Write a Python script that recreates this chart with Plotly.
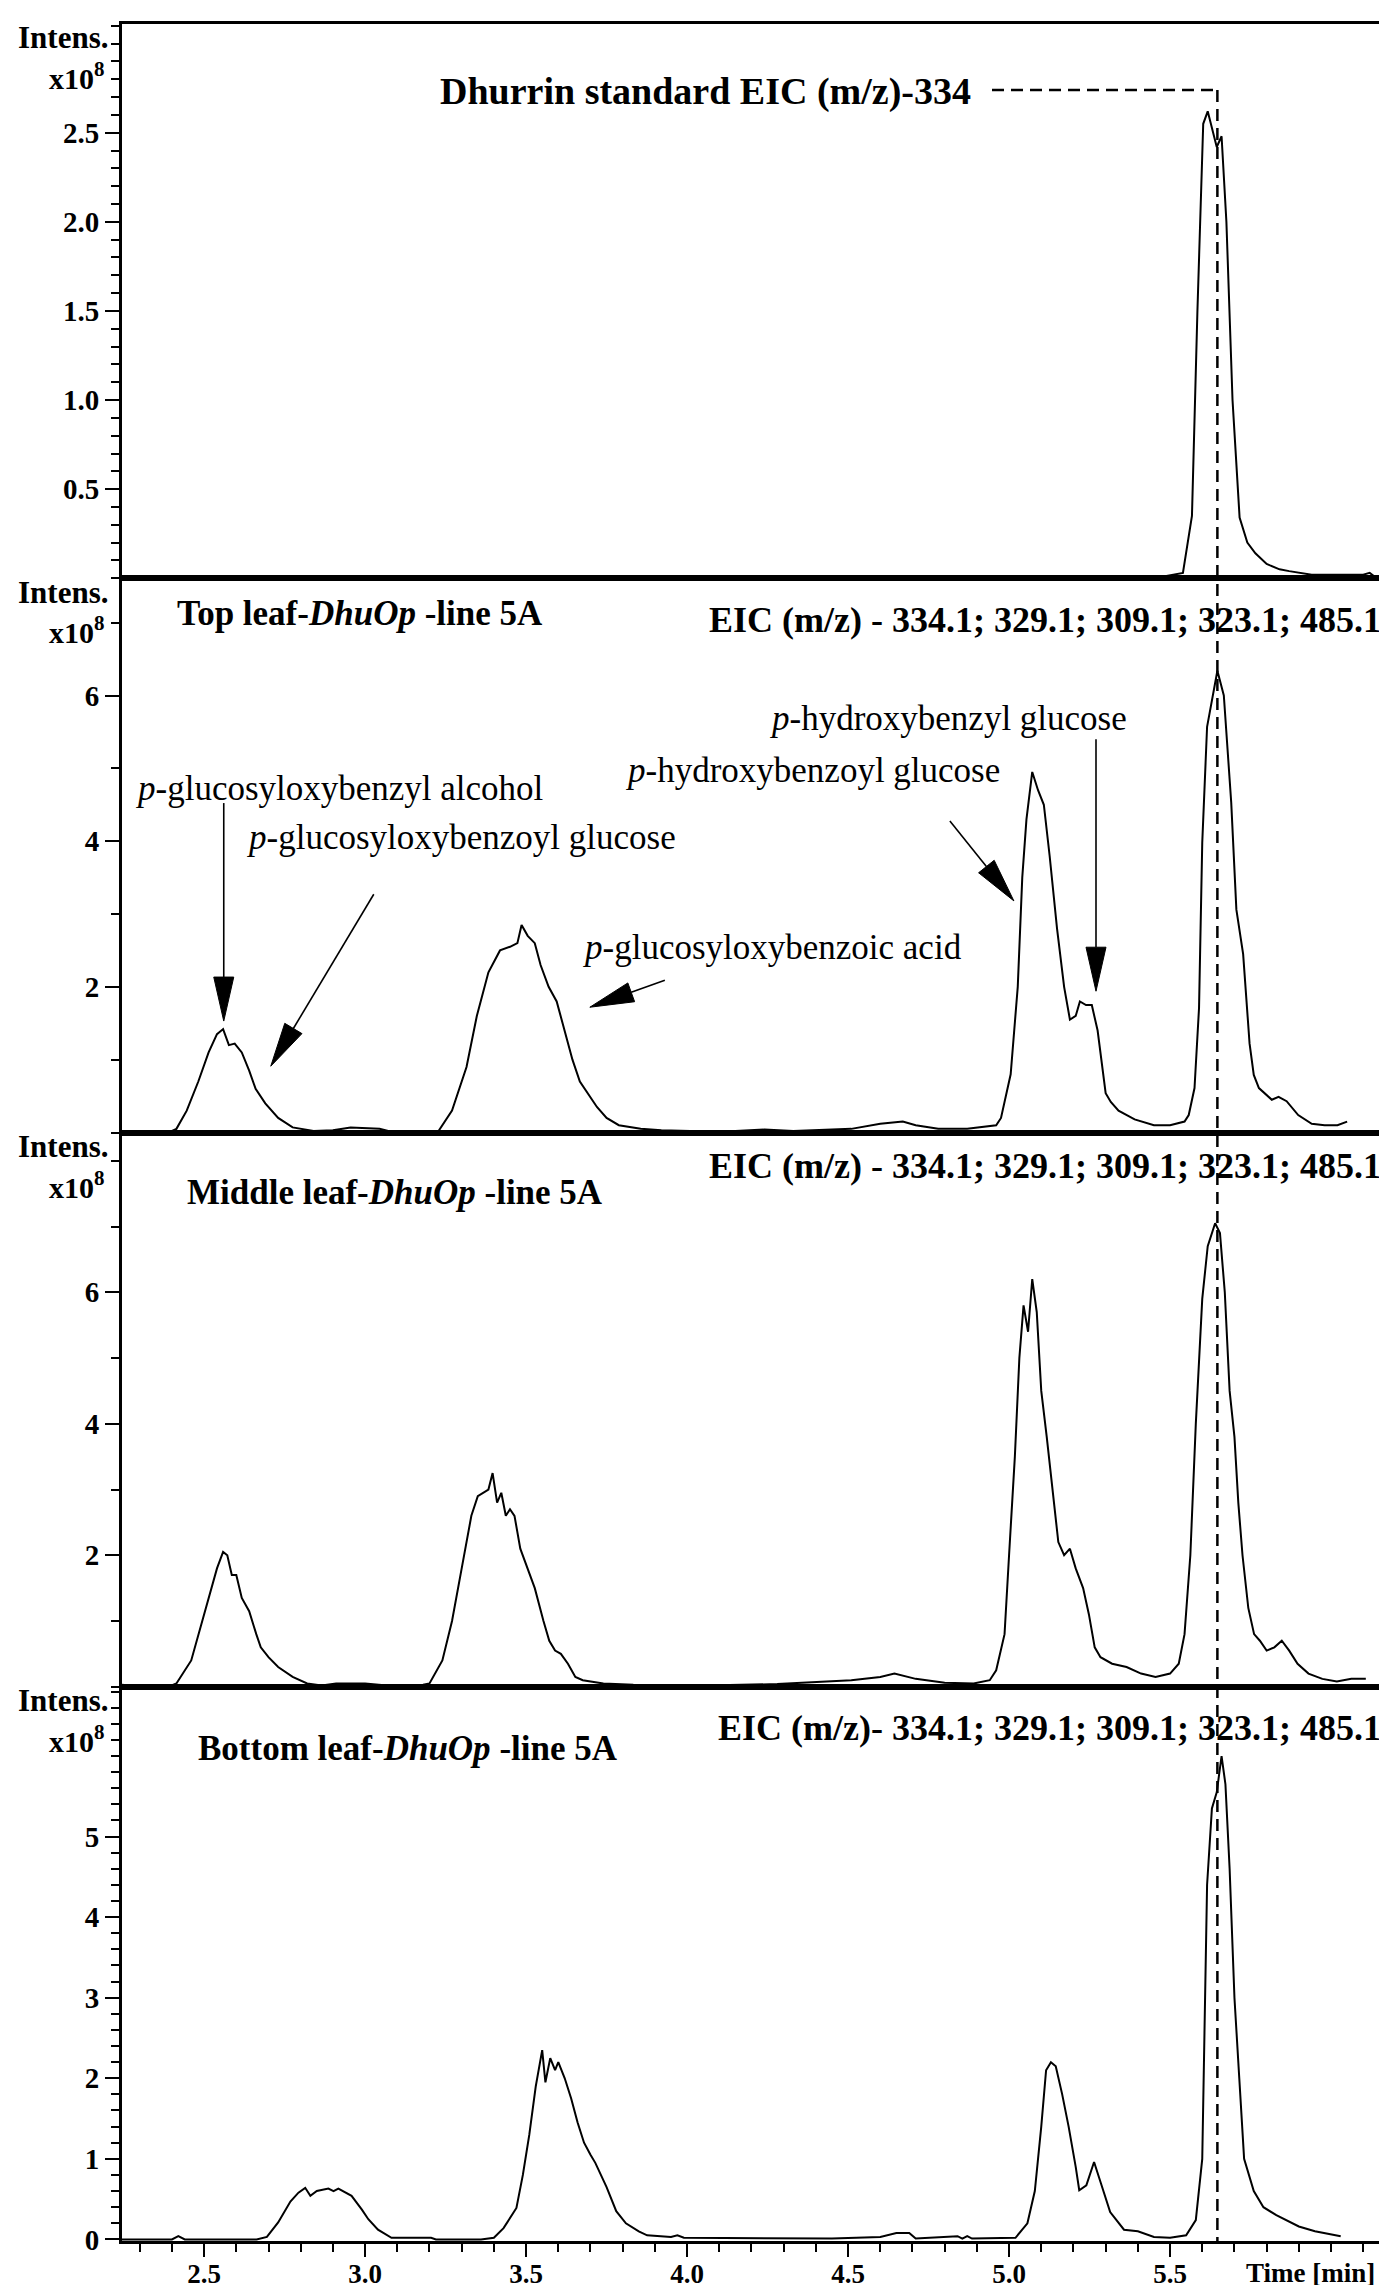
import numpy as np
import plotly.graph_objects as go

# ---------------- data (time in min, intensity in 1e8) ----------------
std_time = [2.245, 5.45, 5.54, 5.568, 5.585, 5.603, 5.617, 5.632, 5.645, 5.66, 5.675, 5.694,
            5.716, 5.74, 5.765, 5.80, 5.84, 5.87, 5.94, 6.0, 6.05, 6.10, 6.12, 6.135]
std_int = [0.0, 0.0, 0.03, 0.35, 1.5, 2.55, 2.62, 2.52, 2.42, 2.48, 2.0, 1.0,
           0.34, 0.2, 0.14, 0.08, 0.05, 0.04, 0.02, 0.02, 0.02, 0.02, 0.03, 0.01]

top_time = [2.245, 2.39, 2.414, 2.446, 2.482, 2.514, 2.54, 2.559, 2.577, 2.595, 2.617, 2.64,
            2.66, 2.69, 2.73, 2.775, 2.84, 2.9, 2.955, 3.0, 3.045, 3.09, 3.225, 3.27, 3.315,
            3.347, 3.383, 3.419, 3.45, 3.473, 3.486, 3.505, 3.527, 3.545, 3.57, 3.595, 3.62,
            3.644, 3.667, 3.689, 3.72, 3.75, 3.788, 3.856, 3.92, 4.01, 4.15, 4.24, 4.33, 4.51,
            4.6, 4.67, 4.71, 4.78, 4.87, 4.96, 4.975, 5.005, 5.027, 5.041, 5.054, 5.072, 5.09,
            5.108, 5.126, 5.149, 5.171, 5.189, 5.207, 5.22, 5.239, 5.257, 5.275, 5.30, 5.316,
            5.34, 5.39, 5.45, 5.50, 5.545, 5.558, 5.576, 5.59, 5.60, 5.615, 5.647, 5.667, 5.69,
            5.706, 5.727, 5.747, 5.76, 5.776, 5.816, 5.837, 5.862, 5.898, 5.94, 5.98, 6.02, 6.05]
top_int = [0.0, 0.0, 0.05, 0.3, 0.7, 1.1, 1.35, 1.42, 1.2, 1.22, 1.1, 0.85,
           0.6, 0.4, 0.2, 0.07, 0.02, 0.03, 0.07, 0.06, 0.05, 0.0, 0.0, 0.3, 0.9,
           1.6, 2.2, 2.5, 2.55, 2.6, 2.85, 2.7, 2.6, 2.3, 2.0, 1.8, 1.4,
           1.0, 0.7, 0.55, 0.35, 0.2, 0.1, 0.05, 0.03, 0.02, 0.02, 0.04, 0.02, 0.05,
           0.12, 0.15, 0.1, 0.05, 0.05, 0.1, 0.2, 0.8, 2.0, 3.5, 4.3, 4.95, 4.7,
           4.5, 3.8, 2.8, 2.0, 1.55, 1.6, 1.8, 1.75, 1.75, 1.4, 0.54, 0.42,
           0.3, 0.18, 0.1, 0.1, 0.15, 0.24, 0.61, 1.71, 3.98, 5.57, 6.34, 6.0, 4.53,
           3.06, 2.45, 1.22, 0.79, 0.61, 0.45, 0.49, 0.43, 0.24, 0.12, 0.1, 0.1, 0.15]

mid_time = [2.245, 2.26, 2.30, 2.39, 2.414, 2.46, 2.495, 2.518, 2.54, 2.559, 2.572, 2.586,
            2.6, 2.617, 2.64, 2.662, 2.676, 2.70, 2.73, 2.775, 2.82, 2.865, 2.91, 3.0, 3.068,
            3.18, 3.20, 3.24, 3.27, 3.30, 3.33, 3.35, 3.383, 3.396, 3.41, 3.423, 3.437, 3.45,
            3.464, 3.482, 3.505, 3.527, 3.554, 3.572, 3.59, 3.608, 3.63, 3.653, 3.676, 3.74,
            3.833, 4.06, 4.28, 4.51, 4.60, 4.644, 4.71, 4.80, 4.89, 4.94, 4.96, 4.986, 5.0,
            5.018, 5.032, 5.045, 5.059, 5.072, 5.086, 5.10, 5.117, 5.135, 5.153, 5.171, 5.189,
            5.207, 5.23, 5.248, 5.266, 5.284, 5.32, 5.365, 5.41, 5.455, 5.50, 5.527, 5.545,
            5.563, 5.58, 5.60, 5.617, 5.640, 5.655, 5.67, 5.685, 5.70, 5.712, 5.725, 5.743,
            5.761, 5.779, 5.80, 5.824, 5.847, 5.87, 5.896, 5.93, 5.973, 6.018, 6.063, 6.108]
mid_int = [0.03, 0.02, 0.0, 0.0, 0.05, 0.4, 1.0, 1.4, 1.8, 2.05, 2.0, 1.7,
           1.7, 1.35, 1.15, 0.8, 0.6, 0.45, 0.3, 0.15, 0.05, 0.02, 0.05, 0.05, 0.02,
           0.03, 0.05, 0.4, 1.0, 1.8, 2.6, 2.9, 3.0, 3.25, 2.8, 2.95, 2.6, 2.7,
           2.6, 2.1, 1.8, 1.5, 1.0, 0.7, 0.55, 0.5, 0.35, 0.15, 0.1, 0.05,
           0.03, 0.02, 0.04, 0.1, 0.15, 0.2, 0.12, 0.06, 0.05, 0.1, 0.25, 0.8, 2.0,
           3.5, 5.0, 5.8, 5.4, 6.2, 5.7, 4.5, 3.8, 3.0, 2.2, 2.0, 2.1,
           1.8, 1.5, 1.1, 0.6, 0.45, 0.35, 0.3, 0.2, 0.15, 0.2, 0.35, 0.8,
           2.0, 4.0, 5.9, 6.7, 7.05, 6.9, 6.0, 4.5, 3.8, 2.8, 2.0, 1.2,
           0.8, 0.7, 0.55, 0.6, 0.7, 0.55, 0.35, 0.2, 0.12, 0.08, 0.12, 0.12]

bot_time = [2.245, 2.40, 2.42, 2.44, 2.663, 2.695, 2.73, 2.768, 2.793, 2.814, 2.83, 2.85,
            2.886, 2.902, 2.917, 2.958, 2.99, 3.01, 3.04, 3.082, 3.205, 3.22, 3.36, 3.40,
            3.43, 3.47, 3.49, 3.51, 3.53, 3.55, 3.56, 3.575, 3.59, 3.60, 3.62, 3.64, 3.66,
            3.68, 3.70, 3.715, 3.75, 3.78, 3.81, 3.85, 3.876, 3.95, 3.97, 3.99, 4.45, 4.60,
            4.65, 4.69, 4.71, 4.84, 4.855, 4.87, 4.885, 5.02, 5.057, 5.08, 5.10, 5.115, 5.13,
            5.145, 5.165, 5.185, 5.207, 5.218, 5.24, 5.264, 5.285, 5.314, 5.357, 5.40, 5.45,
            5.50, 5.55, 5.58, 5.60, 5.615, 5.63, 5.645, 5.66, 5.672, 5.685, 5.70, 5.715, 5.73,
            5.76, 5.79, 5.83, 5.87, 5.90, 5.95, 5.99, 6.03]
bot_int = [0.0, 0.0, 0.04, 0.0, 0.0, 0.03, 0.21, 0.47, 0.58, 0.64, 0.54, 0.6,
           0.63, 0.6, 0.63, 0.54, 0.37, 0.25, 0.12, 0.02, 0.02, 0.0, 0.0, 0.02,
           0.14, 0.39, 0.8, 1.3, 1.9, 2.35, 1.95, 2.25, 2.1, 2.2, 2.0, 1.75, 1.45,
           1.2, 1.05, 0.95, 0.65, 0.35, 0.2, 0.1, 0.05, 0.03, 0.05, 0.02, 0.01, 0.03,
           0.08, 0.08, 0.01, 0.04, 0.01, 0.04, 0.01, 0.02, 0.2, 0.6, 1.4, 2.1, 2.2,
           2.15, 1.8, 1.4, 0.9, 0.61, 0.67, 0.96, 0.7, 0.34, 0.12, 0.1, 0.03,
           0.02, 0.05, 0.24, 1.0, 4.4, 5.35, 5.55, 6.0, 5.65, 4.6, 3.0, 2.0, 1.0,
           0.6, 0.4, 0.3, 0.22, 0.16, 0.1, 0.07, 0.04]

x_tickvals = [2.5, 3.0, 3.5, 4.0, 4.5, 5.0, 5.5]
x_ticktext = ["2.5", "3.0", "3.5", "4.0", "4.5", "5.0", "5.5"]
dhurrin_rt = 5.647  # retention time marked by the dashed line

panel_titles = ["", "Top leaf-<i>DhuOp</i> -line 5A", "Middle leaf-<i>DhuOp</i> -line 5A",
                "Bottom leaf-<i>DhuOp</i> -line 5A"]
eic_labels = ["Dhurrin standard EIC (m/z)-334",
              "EIC (m/z) - 334.1; 329.1; 309.1; 323.1; 485.1",
              "EIC (m/z) - 334.1; 329.1; 309.1; 323.1; 485.1",
              "EIC (m/z)- 334.1; 329.1; 309.1; 323.1; 485.1"]

# compound annotations in the top-leaf panel: label, arrow tip (time, intensity)
cmp_labels = ["<i>p</i>-glucosyloxybenzyl alcohol", "<i>p</i>-glucosyloxybenzoyl glucose",
              "<i>p</i>-glucosyloxybenzoic acid", "<i>p</i>-hydroxybenzoyl glucose",
              "<i>p</i>-hydroxybenzyl glucose"]
cmp_tip_time = [2.561, 2.707, 3.698, 5.015, 5.27]
cmp_tip_int = [1.53, 0.91, 1.72, 3.18, 1.94]

# ---------------- layout geometry ----------------
W, H = 1387, 2285
ML, MR, MT, MB = 114, 3, 16, 52
PW, PH = W - ML - MR, H - MT - MB
XR = [2.245, 6.18]
YR = [[0, 3.11], [0, 7.61], [0, 8.43], [-0.02, 6.86]]
FONT = "Liberation Serif"


def pxx(x):
    return (x - ML) / PW


def pxy(y):
    return (H - MB - y) / PH


fig = go.Figure()
series = [(std_time, std_int), (top_time, top_int), (mid_time, mid_int), (bot_time, bot_int)]
for i, (t, v) in enumerate(series):
    k = i + 1
    fig.add_trace(go.Scatter(x=t, y=v, mode="lines", line=dict(color="black", width=2),
                             xaxis=f"x{k}", yaxis=f"y{k}", showlegend=False, hoverinfo="skip"))

ytickfont = dict(family=FONT, size=29, color="black", weight="bold")
xtickfont = dict(family=FONT, size=27, color="black", weight="bold")
layout = dict(width=W, height=H, margin=dict(l=ML, r=MR, t=MT, b=MB),
              paper_bgcolor="white", plot_bgcolor="white", showlegend=False)

ytick_specs = [
    dict(tickvals=[0.5, 1.0, 1.5, 2.0, 2.5], ticktext=["0.5", "1.0", "1.5", "2.0", "2.5"],
         minor=dict(dtick=0.1, tick0=0)),
    dict(tickvals=[2, 4, 6], ticktext=["2", "4", "6"], minor=dict(dtick=1, tick0=0)),
    dict(tickvals=[2, 4, 6], ticktext=["2", "4", "6"], minor=dict(dtick=1, tick0=0)),
    dict(tickvals=[0, 1, 2, 3, 4, 5], ticktext=["0", "1", "2", "3", "4", "5"],
         minor=dict(dtick=0.2, tick0=0)),
]

for i in range(4):
    k = i + 1
    lo, hi = 1 - 0.25 * (i + 1), 1 - 0.25 * i
    xa = dict(domain=[0, 1], range=XR, showgrid=False, zeroline=False, showline=True,
              linecolor="black", linewidth=3, mirror=True, anchor=f"y{k}")
    if k == 4:
        xa.update(tickvals=x_tickvals, ticktext=x_ticktext, ticks="outside", ticklen=13,
                  tickwidth=2, tickcolor="black", tickfont=xtickfont, ticklabelstandoff=-6,
                  minor=dict(dtick=0.1, tick0=0, ticks="outside", ticklen=8, tickwidth=2,
                             tickcolor="black"))
    else:
        xa.update(showticklabels=False, ticks="", matches="x4")
    ya = dict(domain=[lo, hi], range=YR[i], showgrid=False, zeroline=False, showline=True,
              linecolor="black", linewidth=3, mirror=True, anchor=f"x{k}",
              ticks="outside", ticklen=14, tickwidth=2, tickcolor="black", tickfont=ytickfont,
              tickvals=ytick_specs[i]["tickvals"], ticktext=ytick_specs[i]["ticktext"])
    mn = dict(ticks="outside", ticklen=8, tickwidth=2, tickcolor="black")
    mn.update(ytick_specs[i]["minor"])
    ya["minor"] = mn
    layout["xaxis" if k == 1 else f"xaxis{k}"] = xa
    layout["yaxis" if k == 1 else f"yaxis{k}"] = ya

fig.update_layout(**layout)

ann = []
shapes = []
bold = dict(family=FONT, color="black", weight="bold")

# Intens. / x10^8 labels per panel
panel_tops = [MT + PH * 0.25 * i for i in range(4)]
for i, top in enumerate(panel_tops):
    ann.append(dict(text="Intens.", xref="paper", yref="paper", x=pxx(102), y=pxy(top + 14),
                    xanchor="right", yanchor="middle", showarrow=False, font=dict(size=31, **bold)))
    ann.append(dict(text="x10<sup>8</sup>", xref="paper", yref="paper", x=pxx(99),
                    y=pxy(top + 52), xanchor="right", yanchor="middle", showarrow=False,
                    font=dict(size=30, **bold)))

# panel titles and EIC labels
title_pos = [None, (167, 606), (177, 1184), (188, 1740)]
eic_pos = [(431, 84), (1378, 612), (1378, 1158), (1378, 1720)]
for i in range(4):
    if title_pos[i]:
        ann.append(dict(text=panel_titles[i], xref="paper", yref="paper",
                        x=pxx(title_pos[i][0]), y=pxy(title_pos[i][1]), xanchor="left",
                        yanchor="middle", showarrow=False, font=dict(size=35, **bold)))
    ann.append(dict(text=eic_labels[i], xref="paper", yref="paper", x=pxx(eic_pos[i][0]),
                    y=pxy(eic_pos[i][1]), xanchor="left" if i == 0 else "right",
                    yanchor="middle", showarrow=False,
                    font=dict(size=38 if i == 0 else 36, **bold)))

# Time [min]
ann.append(dict(text="Time [min]", xref="paper", yref="paper", x=pxx(1372), y=pxy(2265),
                xanchor="right", yanchor="middle", showarrow=False, font=dict(size=27, **bold)))

# compound labels (page positions, left edge / vertical centre)
cmp_text_pos = [(125, 780), (236, 830), (573, 940), (616, 763), (761, 710)]
# arrow tail offsets from tip in pixels (dx right, dy up)
cmp_tail = [(0, 218), (103, 172), (75, 27), (-64, 80), (0, 252)]
for lab, (tx, ty) in zip(cmp_labels, cmp_text_pos):
    ann.append(dict(text=lab, xref="paper", yref="paper", x=pxx(tx), y=pxy(ty), xanchor="left",
                    yanchor="middle", showarrow=False,
                    font=dict(family=FONT, size=35, color="black")))

HEAD_L, HEAD_W = 44, 20
for tt, ti, (dx, dy) in zip(cmp_tip_time, cmp_tip_int, cmp_tail):
    L = float(np.hypot(dx, dy))
    ux, uy = dx / L, dy / L
    bx, by = ux * HEAD_L, uy * HEAD_L
    px_, py_ = -uy * HEAD_W / 2, ux * HEAD_W / 2
    common = dict(xref="x2", yref="y2", xsizemode="pixel", ysizemode="pixel",
                  xanchor=tt, yanchor=ti, type="path")
    shapes.append(dict(path=f"M{dx:.1f},{dy:.1f} L{bx:.1f},{by:.1f}",
                       line=dict(color="black", width=1.6), **common))
    shapes.append(dict(path=(f"M0,0 L{bx + px_:.1f},{by + py_:.1f} "
                             f"L{bx - px_:.1f},{by - py_:.1f} Z"),
                       fillcolor="black", line=dict(color="black", width=1), **common))

# dashed retention-time marker: horizontal leader from the standard label, then vertical
lead_y = pxy(82)
shapes.append(dict(type="line", xref="x4", yref="paper", x0=4.947, x1=dhurrin_rt,
                   y0=lead_y, y1=lead_y, line=dict(color="black", width=2.5, dash="12px,7px")))
shapes.append(dict(type="line", xref="x4", yref="paper", x0=dhurrin_rt, x1=dhurrin_rt,
                   y0=lead_y, y1=0, line=dict(color="black", width=2.5, dash="12px,7px")))

fig.update_layout(annotations=ann, shapes=shapes)
fig.write_html("out.html")
